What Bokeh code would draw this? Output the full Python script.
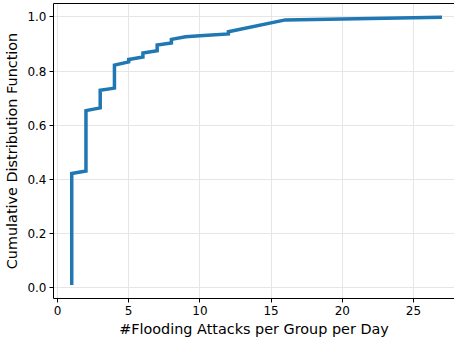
from bokeh.plotting import figure
from bokeh.models import FixedTicker, PrintfTickFormatter, LinearAxis, Range1d
from bokeh.embed import file_html
from bokeh.resources import INLINE

# Attacks per group per day (sorted) and cumulative fraction
attacks = [1, 1, 2, 2, 3, 3, 4, 4, 5, 5, 6, 6, 7, 7, 8, 8, 9, 10, 12, 12, 16, 27]
cdf = [0.01, 0.422, 0.431, 0.654, 0.664, 0.729, 0.737, 0.822, 0.834, 0.843,
       0.852, 0.867, 0.875, 0.896, 0.904, 0.917, 0.927, 0.930, 0.937, 0.945,
       0.989, 0.999]

x_ticks = [0, 5, 10, 15, 20, 25]
y_ticks = [0.0, 0.2, 0.4, 0.6, 0.8, 1.0]

FONT = "DejaVu Sans"

p = figure(width=454, height=339, output_backend="svg", toolbar_location=None,
           x_range=Range1d(-0.28, 27.88), y_range=Range1d(-0.04, 1.0495),
           min_border_left=53, min_border_right=0, min_border_top=3,
           min_border_bottom=0)

p.line(attacks, cdf, line_width=3.5, line_color="#1f77b4", line_join="miter")

p.outline_line_color = None
p.background_fill_color = "white"
p.border_fill_color = "white"

for ax in (p.xaxis[0], p.yaxis[0]):
    ax.axis_line_color = "black"
    ax.axis_line_width = 1
    ax.major_tick_line_color = "black"
    ax.major_tick_out = 4
    ax.major_tick_in = 0
    ax.minor_tick_line_color = None
    ax.major_label_text_font = FONT
    ax.major_label_text_font_size = "12px"
    ax.major_label_text_color = "black"
    ax.axis_label_text_font = FONT
    ax.axis_label_text_font_size = "14.4px"
    ax.axis_label_text_font_style = "normal"
    ax.axis_label_text_color = "black"

p.xaxis.ticker = FixedTicker(ticks=x_ticks)
p.yaxis.ticker = FixedTicker(ticks=y_ticks)
p.xaxis.formatter = PrintfTickFormatter(format="%d")
p.yaxis.formatter = PrintfTickFormatter(format="%.1f")
p.xaxis.axis_label = "#Flooding Attacks per Group per Day"
p.yaxis.axis_label = "Cumulative Distribution Function"
p.xaxis.major_label_standoff = 3
p.yaxis.major_label_standoff = 3
p.xaxis.axis_label_standoff = 3
p.yaxis.axis_label_standoff = 4

top = LinearAxis(ticker=FixedTicker(ticks=[]), major_label_text_font_size="0px",
                 major_tick_line_color=None, minor_tick_line_color=None,
                 axis_line_color="black", axis_line_width=1,
                 major_label_standoff=0)
p.add_layout(top, "above")

p.xgrid.grid_line_color = "#e6e6e6"
p.ygrid.grid_line_color = "#e6e6e6"
p.xgrid.ticker = FixedTicker(ticks=x_ticks)
p.ygrid.ticker = FixedTicker(ticks=y_ticks)

open("out.html", "w").write(file_html(p, INLINE))
